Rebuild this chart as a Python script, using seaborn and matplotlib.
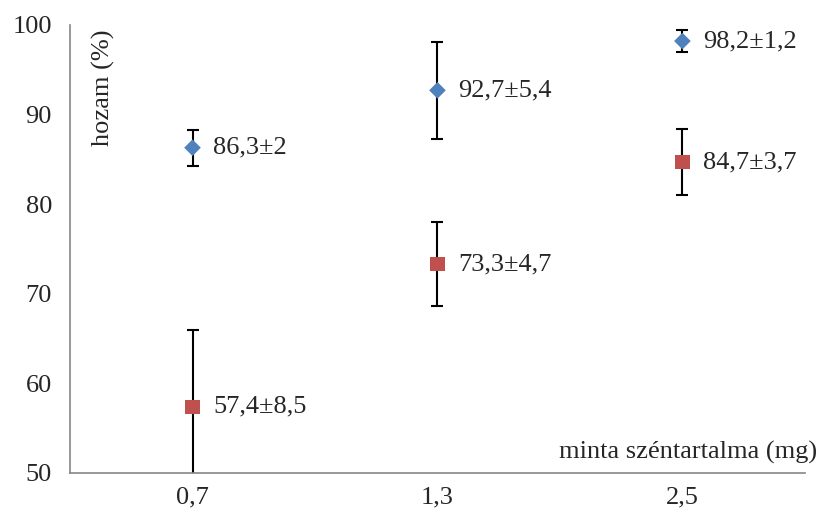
import numpy as np
import pandas as pd
import matplotlib
matplotlib.use("Agg")
import matplotlib.pyplot as plt
import seaborn as sns

categories = ["0,7", "1,3", "2,5"]
blue_vals = [86.3, 92.7, 98.2]
blue_err = [2, 5.4, 1.2]
red_vals = [57.4, 73.3, 84.7]
red_err = [8.5, 4.7, 3.7]
blue_labels = ["86,3±2", "92,7±5,4", "98,2±1,2"]
red_labels = ["57,4±8,5", "73,3±4,7", "84,7±3,7"]

sns.set_style("white")
plt.rcParams['font.family'] = ['Liberation Serif', 'DejaVu Serif']

df = pd.DataFrame({
    'pos': list(range(3)) * 2,
    'hozam': blue_vals + red_vals,
    'err': blue_err + red_err,
    'sor': ['kek'] * 3 + ['piros'] * 3,
    'label': blue_labels + red_labels,
})

fig = plt.figure(figsize=(8.22, 5.15), dpi=100)
ax = fig.add_axes([0.0852, 0.0816, 0.894, 0.870])

# error bars first
ax.errorbar(df['pos'], df['hozam'], yerr=df['err'], fmt='none', ecolor='black',
            elinewidth=1.5, capsize=4.2, capthick=1.5, zorder=2)

kek = df[df['sor'] == 'kek']
piros = df[df['sor'] == 'piros']
sns.scatterplot(data=kek, x='pos', y='hozam', marker='D', color='#4F81BD',
                s=72, edgecolor='none', legend=False, ax=ax, zorder=3)
sns.scatterplot(data=piros, x='pos', y='hozam', marker='s', color='#C0504D',
                s=105, edgecolor='none', legend=False, ax=ax, zorder=3)

for _, r in df.iterrows():
    ax.annotate(r['label'], (r['pos'], r['hozam']), xytext=(15, 0),
                textcoords='offset points', va='center', ha='left', fontsize=19)

ax.set_xlim(-0.5, 2.5)
ax.set_ylim(50, 100)
ax.set_yticks([50, 60, 70, 80, 90, 100])
ax.set_xticks([0, 1, 2])
ax.set_xticklabels(categories)
ax.set_xticks([-0.5, 0.5, 1.5, 2.5], minor=True)
ax.tick_params(axis='x', which='major', length=0, pad=10, labelsize=19)
ax.tick_params(axis='x', which='minor', length=5, color='#868686', width=1.2)
ax.tick_params(axis='y', length=5, color='#868686', width=1.2, labelsize=19, pad=8)
ax.set_xlabel('')
ax.set_ylabel('')

for s in ['top', 'right']:
    ax.spines[s].set_visible(False)
for s in ['left', 'bottom']:
    ax.spines[s].set_color('#868686')
    ax.spines[s].set_linewidth(1.2)

ax.text(0.045, 0.86, 'hozam (%)', transform=ax.transAxes, rotation=90,
        ha='center', va='center', fontsize=19)
ax.text(1.017, 0.033, 'minta széntartalma (mg)', transform=ax.transAxes,
        ha='right', va='baseline', fontsize=19)

fig.savefig('out.png', dpi=100)
